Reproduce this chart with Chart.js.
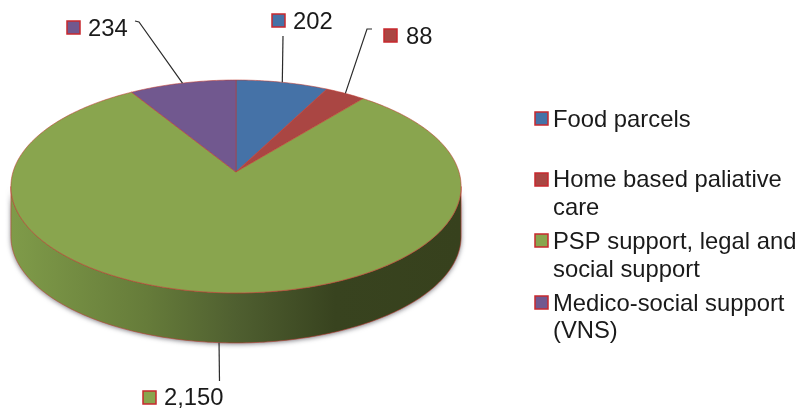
<!DOCTYPE html>
<html>
<head>
<meta charset="utf-8">
<style>
  html, body { margin: 0; padding: 0; background: #fff; }
  #box { width: 799px; height: 408px; }
</style>
<script src="https://cdn.jsdelivr.net/npm/chart.js@4"></script>
</head>
<body>
<div id="box"><canvas id="pieChart" width="799" height="408"></canvas></div>
<script>
const categories = ['Food parcels', 'Home based paliative care', 'PSP support, legal and social support', 'Medico-social support (VNS)'];
const legendLines = [['Food parcels'], ['Home based paliative', 'care'], ['PSP support, legal and', 'social support'], ['Medico-social support', '(VNS)']];
const values = [202, 88, 2150, 234];
const valueLabels = ['202', '88', '2,150', '234'];
const colors = ['#4572A7', '#AA4643', '#89A54E', '#71588F'];

// perspective of the tilted pie
const apexX = 236, apexY = 172;
const radiusX = 223, radiusY = 104.5, tilt = -0.136, depth = 50;
const edgeColor = 'rgba(192, 60, 50, 0.7)';
const swatchEdge = '#C8282E';
const font = '23.8px "Liberation Sans", Arial, sans-serif';

// where each value label goes: swatch corner, text start, baseline, elbow of the leader line
const calloutPos = [
  { sx: 272, sy: 14, tx: 293, ty: 29, leader: [[283, 36]] },
  { sx: 384, sy: 29, tx: 406, ty: 44, leader: [[367, 29], [372, 29]] },
  { sx: 143, sy: 391, tx: 164, ty: 405, leader: [[219.5, 381]], onWall: true },
  { sx: 67, sy: 21, tx: 88, ty: 36, leader: [[139, 22], [135, 21]] }
];
const legendX = 535, legendTextX = 553;
const legendPos = [
  { sy: 112, lines: [127] },
  { sy: 173, lines: [187, 215] },
  { sy: 234, lines: [249, 277] },
  { sy: 296, lines: [311, 338] }
];

function project(angle, drop) {
  const u = Math.cos(angle), v = Math.sin(angle);
  const d = 1 + tilt * v;
  return [apexX + radiusX * u / d, apexY + radiusY * v / d + (drop || 0)];
}

function swatch(ctx, x, y, color) {
  ctx.fillStyle = color;
  ctx.strokeStyle = swatchEdge;
  ctx.lineWidth = 1.5;
  ctx.fillRect(x, y, 13, 13);
  ctx.strokeRect(x, y, 13, 13);
}

function traceArc(ctx, from, to, drop, first) {
  const n = Math.max(2, Math.ceil(Math.abs(to - from) * 60));
  for (let i = 0; i <= n; i++) {
    const p = project(from + (to - from) * i / n, drop);
    if (i === 0 && first) ctx.moveTo(p[0], p[1]);
    else ctx.lineTo(p[0], p[1]);
  }
}

const tiltedPie = {
  id: 'tiltedPie',
  // the library works out the arcs, this only paints them in perspective
  beforeDatasetDraw(chart) {
    const ctx = chart.ctx;
    const arcs = chart.getDatasetMeta(0).data;
    const edge = Math.asin(-tilt);

    // side wall, front part only
    arcs.forEach((arc) => {
      const from = Math.max(arc.startAngle, edge);
      const to = Math.min(arc.endAngle, Math.PI - edge);
      if (to <= from) return;
      const wall = ctx.createLinearGradient(apexX - 225, 0, apexX + 225, 0);
      wall.addColorStop(0, '#7F9B49');
      wall.addColorStop(0.3, '#667C3A');
      wall.addColorStop(0.5, '#4F5F30');
      wall.addColorStop(0.72, '#38431F');
      wall.addColorStop(1, '#37411D');
      ctx.save();
      ctx.shadowColor = 'rgba(60, 60, 70, 0.7)';
      ctx.shadowBlur = 5;
      ctx.shadowOffsetY = 1;
      ctx.beginPath();
      traceArc(ctx, from, to, 0, true);
      traceArc(ctx, to, from, depth, false);
      ctx.closePath();
      ctx.fillStyle = wall;
      ctx.fill();
      ctx.restore();
      ctx.strokeStyle = edgeColor;
      ctx.lineWidth = 0.8;
      ctx.stroke();
    });

    // top face
    arcs.forEach((arc, i) => {
      ctx.beginPath();
      ctx.moveTo(apexX, apexY);
      traceArc(ctx, arc.startAngle, arc.endAngle, 0, false);
      ctx.closePath();
      ctx.fillStyle = colors[i];
      ctx.fill();
      ctx.strokeStyle = edgeColor;
      ctx.lineWidth = 0.8;
      ctx.stroke();
    });

    // leader lines and value labels
    ctx.font = font;
    ctx.textBaseline = 'alphabetic';
    arcs.forEach((arc, i) => {
      const c = calloutPos[i];
      const start = project((arc.startAngle + arc.endAngle) / 2, c.onWall ? depth : 0);
      ctx.beginPath();
      ctx.moveTo(start[0], start[1]);
      c.leader.forEach((p) => ctx.lineTo(p[0], p[1]));
      ctx.strokeStyle = '#2b2b2b';
      ctx.lineWidth = 1.2;
      ctx.stroke();
      swatch(ctx, c.sx, c.sy, colors[i]);
      ctx.fillStyle = '#1a1a1a';
      ctx.fillText(valueLabels[i], c.tx, c.ty);
    });

    // legend
    legendLines.forEach((lines, i) => {
      swatch(ctx, legendX, legendPos[i].sy, colors[i]);
      ctx.fillStyle = '#1a1a1a';
      lines.forEach((line, j) => ctx.fillText(line, legendTextX, legendPos[i].lines[j]));
    });
    return false;
  }
};

new Chart(document.getElementById('pieChart').getContext('2d'), {
  type: 'pie',
  data: {
    labels: categories,
    datasets: [{ data: values, backgroundColor: colors, borderColor: edgeColor, borderWidth: 1 }]
  },
  options: {
    responsive: false,
    animation: false,
    plugins: {
      legend: { display: false },
      tooltip: { enabled: false }
    }
  },
  plugins: [tiltedPie]
});
</script>
</body>
</html>
